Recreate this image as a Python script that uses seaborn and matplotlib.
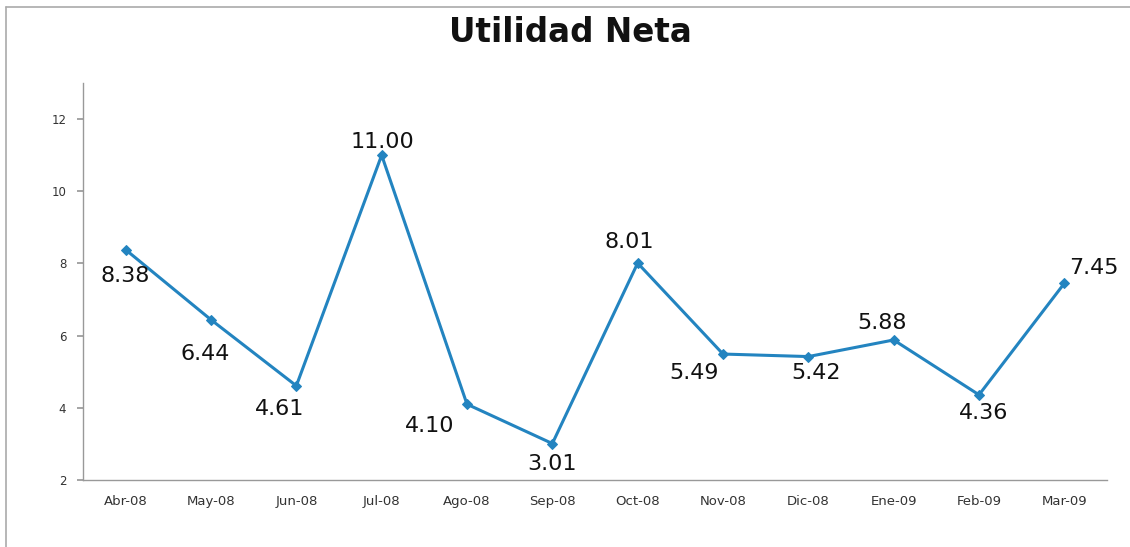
import matplotlib
matplotlib.use("Agg")
import matplotlib.pyplot as plt
import seaborn as sns
import pandas as pd
from matplotlib.lines import Line2D

months = ["Abr-08", "May-08", "Jun-08", "Jul-08", "Ago-08", "Sep-08",
          "Oct-08", "Nov-08", "Dic-08", "Ene-09", "Feb-09", "Mar-09"]
values = [8.38, 6.44, 4.61, 11.00, 4.10, 3.01, 8.01, 5.49, 5.42, 5.88, 4.36, 7.45]
yticks = [2, 4, 6, 8, 10, 12]

# label offsets in pixels (dx, dy) relative to each point; presentation only
label_offsets = [(0, -26), (-6, -34), (-17, -23), (1, 13), (-37, -22), (0, -20),
                 (-8, 21), (-29, -19), (8, -16), (-12, 17), (5, -18), (30, 15)]

sns.set_theme(style="white")
plt.rcParams['font.family'] = ['DejaVu Sans']

fig = plt.figure(figsize=(11.30, 5.47), dpi=100)
ax = fig.add_axes([83/1130, 1 - 480/547, (1107 - 83)/1130, (480 - 83)/547])

df = pd.DataFrame({"mes": months, "valor": values})
df["pos"] = range(len(df))
color = "#2384C0"
sns.lineplot(data=df, x="pos", y="valor", ax=ax, color=color, linewidth=2.2,
             marker="D", markersize=5.5, markeredgecolor=color, markerfacecolor=color)

ax.set_xlim(-0.5, len(months) - 0.5)
ax.set_ylim(2, 13)
ax.set_yticks(yticks)
ax.set_yticklabels([str(t) for t in yticks], fontsize=8.5, color="#333333")
ax.set_xticks([i for i in range(len(months))])
ax.set_xticklabels(months, fontsize=9.5, color="#333333")
ax.set_xticks([i - 0.5 for i in range(len(months) + 1)], minor=True)
ax.tick_params(axis="x", which="major", length=0, pad=11)
ax.tick_params(axis="x", which="minor", length=4, color="#999999", direction="out")
ax.tick_params(axis="y", length=4, color="#999999", direction="out", left=True, pad=8)
ax.set_xlabel("")
ax.set_ylabel("")
for s in ["top", "right"]:
    ax.spines[s].set_visible(False)
for s in ["left", "bottom"]:
    ax.spines[s].set_color("#999999")
    ax.spines[s].set_linewidth(1.0)

for i, (v, off) in enumerate(zip(values, label_offsets)):
    ax.annotate(f"{v:.2f}", xy=(i, v), xytext=off, textcoords="offset pixels",
                ha="center", va="center", fontsize=16, color="#111111")

fig.text(570/1130, 1 - 32/547, "Utilidad Neta", ha="center", va="center",
         fontsize=23.5, fontweight="bold", color="#111111")

# outer chart frame (left and top edges visible)
fig.add_artist(Line2D([6/1130, 6/1130], [0, 1 - 7/547], transform=fig.transFigure,
                      color="#aaaaaa", linewidth=1.2))
fig.add_artist(Line2D([6/1130, 1], [1 - 7/547, 1 - 7/547], transform=fig.transFigure,
                      color="#aaaaaa", linewidth=1.2))

fig.savefig("out.png", dpi=100)
